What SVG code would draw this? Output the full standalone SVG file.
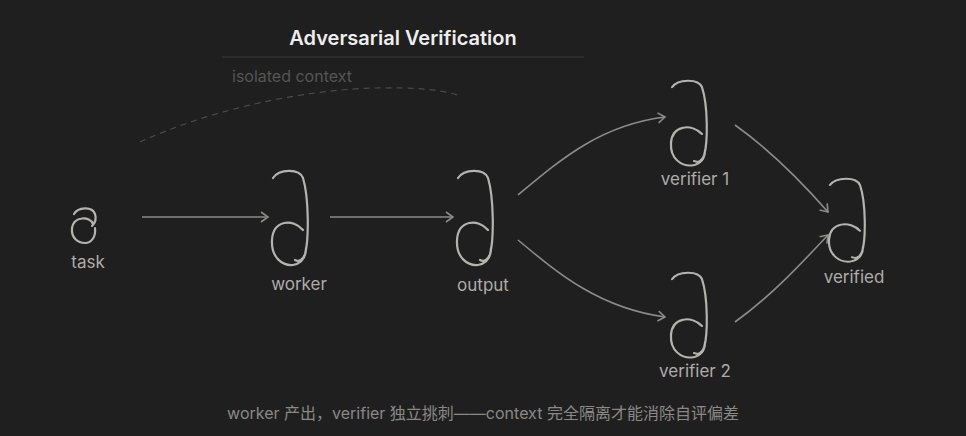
<svg xmlns="http://www.w3.org/2000/svg" width="966" height="436" viewBox="0 0 966 436">
<style>
.g{fill:none;stroke:#b5b3ae;stroke-width:2.2;stroke-linecap:round}
.c{fill:none;stroke:#8c8b88;stroke-width:1.6}
.l{font-family:Inter,"Liberation Sans",sans-serif;font-size:17px;fill:#aeaca8;text-anchor:middle}
</style>
<defs>
<marker id="a" markerWidth="12" markerHeight="12" refX="9" refY="6" orient="auto" markerUnits="userSpaceOnUse"><path d="M2,1 L9,6 L2,11" fill="none" stroke="#8c8b88" stroke-width="1.6"/></marker>
<path id="s" d="M2,8 C8,-1 28,-2 32,8 C38,28 38,70 34,84 C32,90 28,92 24,90 M32,60 C22,48 2,50 1,70 C0,88 12,96 22,95 C32,93 35,86 35,78"/>
</defs>
<rect width="966" height="436" fill="#1f1f1f"/>
<text x="403" y="45" font-family="Inter,'Liberation Sans',sans-serif" font-size="20" font-weight="600" fill="#eeeeee" text-anchor="middle">Adversarial Verification</text>
<line x1="222" y1="57" x2="584" y2="57" stroke="#3c3c3c" stroke-width="1.2"/>
<text x="232" y="82" font-family="Inter,'Liberation Sans',sans-serif" font-size="16" fill="#555">isolated context</text>
<path d="M140,142 C210,110 300,90 375,88 C415,87 445,90 460,96" fill="none" stroke="#4a4a4a" stroke-width="1.2" stroke-dasharray="6 5"/>
<g id="connectors">
<path class="c" d="M142,217 L268,217" marker-end="url(#a)"/>
<path class="c" d="M330,217 L453,217" marker-end="url(#a)"/>
<path class="c" d="M518,195 C560,160 600,125 665,117" marker-end="url(#a)"/>
<path class="c" d="M518,240 C560,275 600,308 665,317" marker-end="url(#a)"/>
<path class="c" d="M735,125 C770,150 800,180 828,212" marker-end="url(#a)"/>
<path class="c" d="M735,322 C770,297 800,265 828,235" marker-end="url(#a)"/>
</g>
<g id="task"><path class="g" d="M74,214 C78,207 92,206 95,214 C97,220 94,224 92,226 M93,224 C90,216 74,216 72,228 C71,238 78,243 85,243 C92,243 96,236 95,228"/><text class="l" x="88" y="268">task</text></g>
<g id="worker"><use href="#s" class="g" transform="translate(271,170)"/><text class="l" x="299" y="290">worker</text></g>
<g id="output"><use href="#s" class="g" transform="translate(456,170)"/><text class="l" x="483" y="291">output</text></g>
<g id="verifier1"><use href="#s" class="g" transform="translate(670,80) scale(1,0.9)"/><text class="l" x="695" y="185">verifier 1</text></g>
<g id="verifier2"><use href="#s" class="g" transform="translate(670,272) scale(1,0.9)"/><text class="l" x="695" y="377">verifier 2</text></g>
<g id="verified"><use href="#s" class="g" transform="translate(828,178) scale(1,0.88)"/><text class="l" x="854" y="283">verified</text></g>
<text x="483" y="419" font-family="Inter,'Liberation Sans','Noto Sans CJK SC',sans-serif" font-size="16" fill="#8a8986" text-anchor="middle">worker 产出，verifier 独立挑刺——context 完全隔离才能消除自评偏差</text>
</svg>
